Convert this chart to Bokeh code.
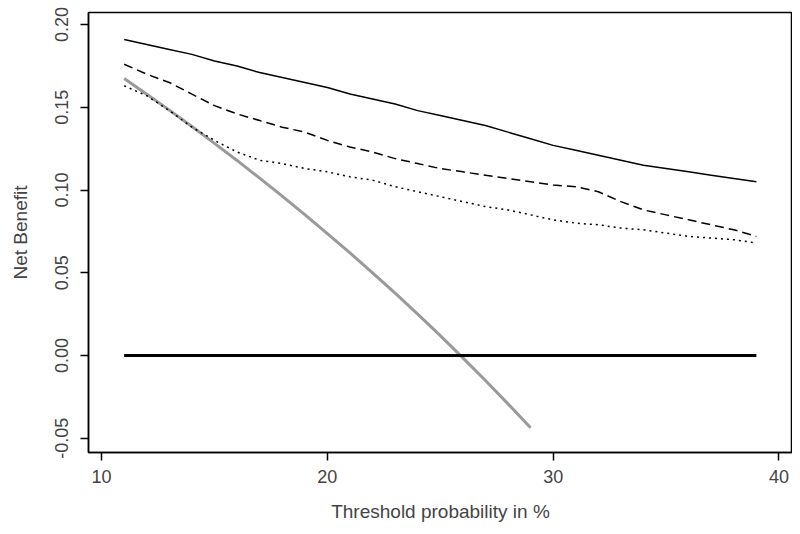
from bokeh.plotting import figure
from bokeh.models import Range1d, FixedTicker
from bokeh.embed import file_html
from bokeh.resources import INLINE

# Threshold probabilities (%)
thresholds = list(range(11, 40))
model_solid = [0.191, 0.188, 0.185, 0.182, 0.178, 0.175, 0.171, 0.168, 0.165, 0.162,
               0.158, 0.155, 0.152, 0.148, 0.145, 0.142, 0.139, 0.135, 0.131, 0.127,
               0.124, 0.121, 0.118, 0.115, 0.113, 0.111, 0.109, 0.107, 0.105]
model_dashed = [0.176, 0.170, 0.165, 0.158, 0.151, 0.146, 0.142, 0.138, 0.135, 0.130,
                0.126, 0.123, 0.119, 0.116, 0.113, 0.111, 0.109, 0.107, 0.105, 0.103,
                0.102, 0.099, 0.093, 0.088, 0.085, 0.082, 0.079, 0.076, 0.072]
model_dotted = [0.163, 0.157, 0.148, 0.138, 0.130, 0.123, 0.118, 0.116, 0.113, 0.111,
                0.108, 0.106, 0.102, 0.099, 0.096, 0.093, 0.090, 0.088, 0.085, 0.082,
                0.080, 0.079, 0.077, 0.076, 0.074, 0.072, 0.071, 0.070, 0.068]
treat_all_x = list(range(11, 30))
treat_all = [0.1674, 0.1579, 0.1483, 0.1384, 0.1282, 0.1179, 0.1072, 0.0963, 0.0852, 0.0737,
             0.0620, 0.0500, 0.0377, 0.0250, 0.0120, -0.0014, -0.0151, -0.0292, -0.0437]
treat_none_x = [11, 39]
treat_none = [0.0, 0.0]

x_ticks = [10, 20, 30, 40]
y_ticks = [-0.05, 0.0, 0.05, 0.10, 0.15, 0.20]
y_tick_labels = {-0.05: "-0.05", 0.0: "0.00", 0.05: "0.05", 0.10: "0.10", 0.15: "0.15", 0.20: "0.20"}

FONT = "Liberation Sans"

p = figure(width=792, height=534, output_backend="svg", toolbar_location=None,
           x_range=Range1d(9.42, 40.6), y_range=Range1d(-0.0586, 0.2073),
           min_border_left=88, min_border_right=0, min_border_top=12, min_border_bottom=82)

p.grid.visible = False
p.outline_line_color = "black"
p.outline_line_width = 1.5
p.background_fill_color = "white"
p.border_fill_color = "white"

p.line(treat_all_x, treat_all, line_color="#9a9a9a", line_width=3)
p.line(treat_none_x, treat_none, line_color="black", line_width=3)
p.line(thresholds, model_solid, line_color="black", line_width=1.5)
p.line(thresholds, model_dashed, line_color="black", line_width=1.5, line_dash="9 5")
p.line(thresholds, model_dotted, line_color="black", line_width=1.5, line_dash="2 4")

xa = p.xaxis[0]
xa.ticker = FixedTicker(ticks=x_ticks)
xa.axis_label = "Threshold probability in %"
xa.axis_label_text_font = FONT
xa.axis_label_text_font_style = "normal"
xa.axis_label_text_font_size = "19px"
xa.axis_label_standoff = 15
xa.major_label_text_font = FONT
xa.major_label_text_font_size = "18px"
xa.major_label_standoff = 9
xa.major_tick_out = 8
xa.major_tick_in = 0
xa.minor_tick_out = 0
xa.minor_tick_in = 0
xa.axis_line_width = 1.5
xa.major_tick_line_width = 1.5

ya = p.yaxis[0]
ya.ticker = FixedTicker(ticks=y_ticks)
ya.major_label_overrides = y_tick_labels
ya.axis_label = "Net Benefit"
ya.axis_label_text_font = FONT
ya.axis_label_text_font_style = "normal"
ya.axis_label_text_font_size = "19px"
ya.axis_label_standoff = 22
ya.major_label_text_font = FONT
ya.major_label_text_font_size = "18px"
ya.major_label_orientation = "vertical"
ya.major_label_standoff = 12
ya.major_tick_out = 8
ya.major_tick_in = 0
ya.minor_tick_out = 0
ya.minor_tick_in = 0
ya.axis_line_width = 1.5
ya.major_tick_line_width = 1.5

open("out.html", "w").write(file_html(p, INLINE))
